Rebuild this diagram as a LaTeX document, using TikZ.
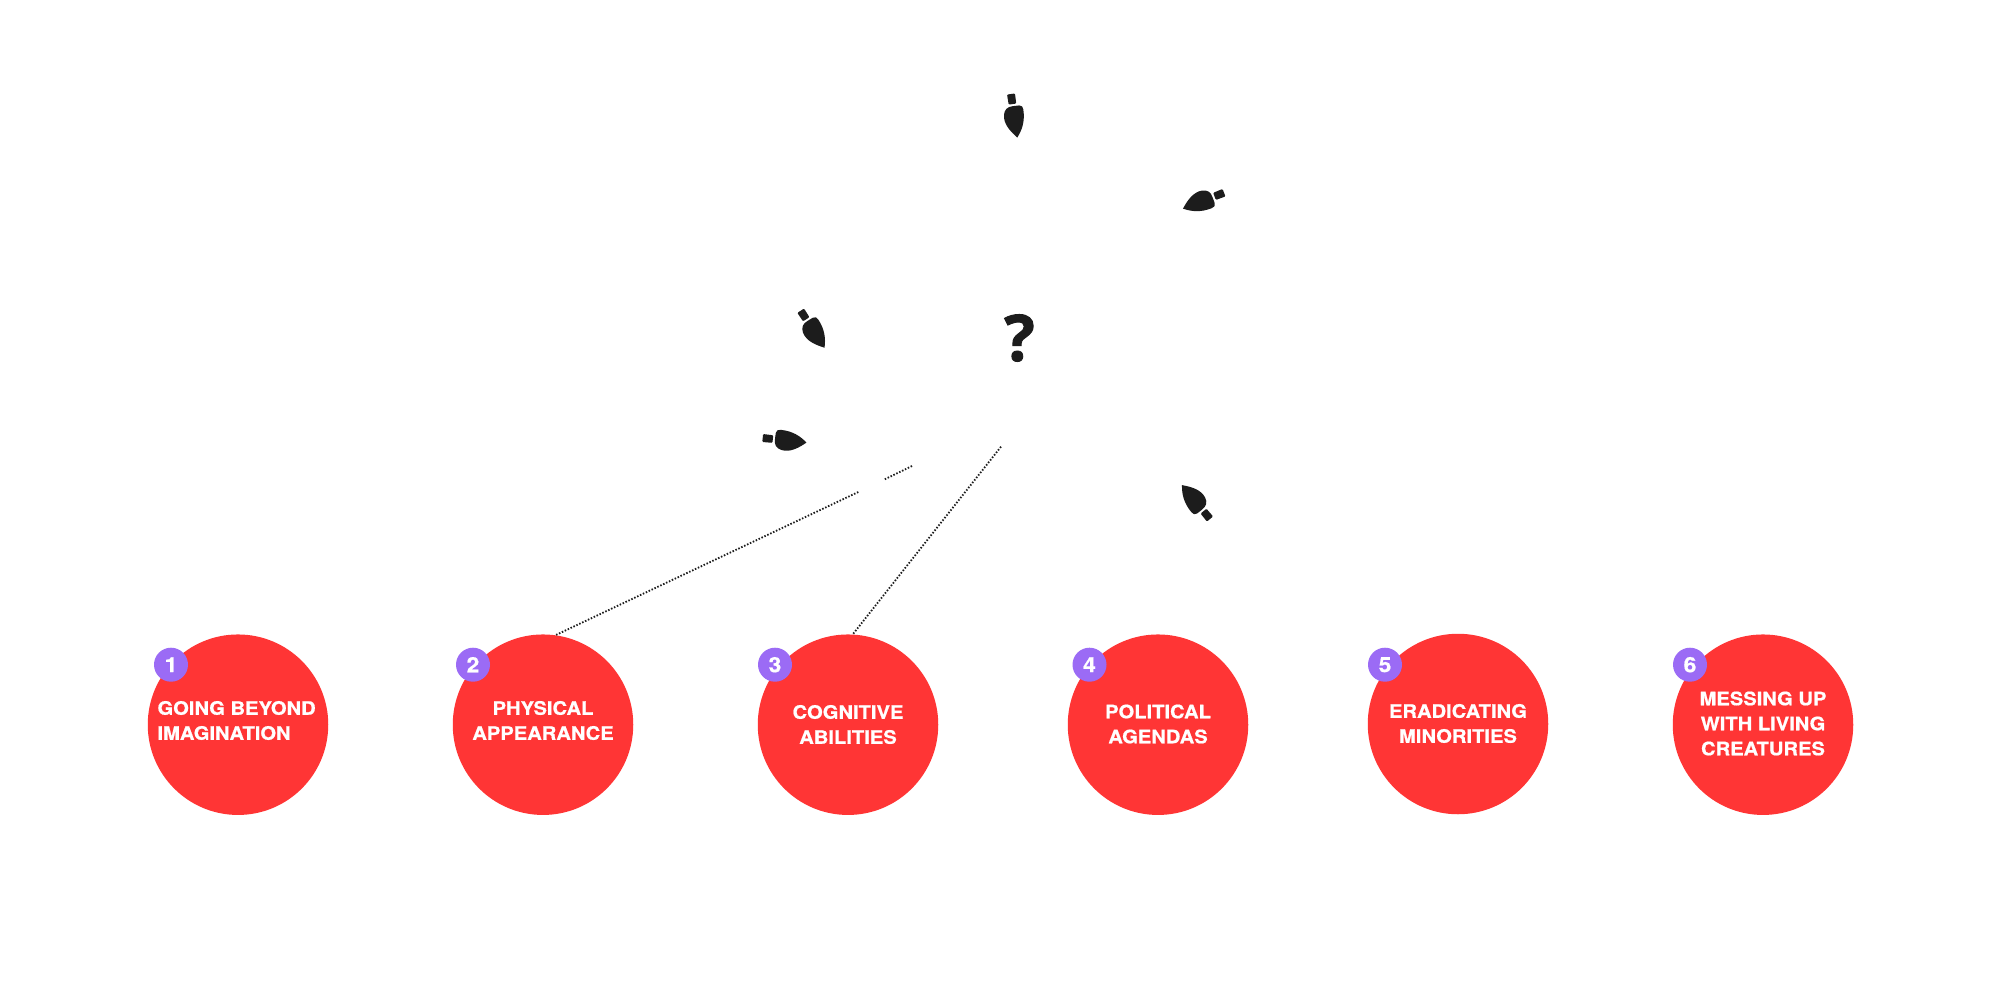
\documentclass[tikz,border=0pt]{standalone}
\usepackage{fontspec}
\setmainfont{TeX Gyre Heros}
\newfontfamily\labelfont[FakeStretch=1.09,FakeBold=0.7]{TeX Gyre Heros Bold}
\newfontfamily\qfont[FakeBold=1.4]{Open Sans Bold}
\definecolor{redc}{HTML}{FF3535}
\definecolor{purp}{HTML}{9B6BF5}
\definecolor{inkc}{HTML}{1C1C1C}
\tikzset{
  disc/.style={circle,fill=redc,minimum size=180.5pt,inner sep=0pt},
  badge/.style={circle,fill=purp,minimum size=34pt,inner sep=0pt,text=white,font=\labelfont\fontsize{21}{21}\selectfont},
  lab/.style={text=white,inner sep=0pt,align=center,font=\labelfont\fontsize{18.5}{25}\selectfont},
  dots/.style={draw=inkc,line width=1.8pt,dash pattern=on 1.5pt off 1.7pt},
  bulb/.pic={
    \fill[inkc,rounded corners=1pt] (0,-4) -- (10.2,-3.8) -- (10.2,3.8) -- (0,4) -- cycle;
    \fill[inkc] (44,0) .. controls (37,-6) and (29,-10) .. (17,-10)
      .. controls (14.5,-10) and (12.5,-9) .. (12.5,-6.5)
      .. controls (12.5,-3) and (12,-1) .. (12.6,3.5)
      .. controls (13.5,8) and (18,10.3) .. (23,10.3)
      .. controls (31,10.3) and (38,5) .. (44,0) -- cycle;
  }
}
\begin{document}
\begin{tikzpicture}[x=1pt,y=-1pt]
\useasboundingbox (0,0) rectangle (2000,988);
\fill[white] (0,0) rectangle (2000,988);
% discs
\node[disc] (c1) at (238,724.7) {};
\node[disc] (c2) at (543,724.7) {};
\node[disc] (c3) at (848,724.7) {};
\node[disc] (c4) at (1158,724.7) {};
\node[disc] (c5) at (1458,724) {};
\node[disc] (c6) at (1763,724.7) {};
% badges
\node[badge] (b1) at (171,664.7) {1};
\node[badge] (b2) at (473,664.7) {2};
\node[badge] (b3) at (775,664.7) {3};
\node[badge] (b4) at (1089.5,664.7) {4};
\node[badge] (b5) at (1385,664.7) {5};
\node[badge] (b6) at (1690,664.7) {6};
% labels
\node[lab,align=left] (t1) at (236.6,720.5) {GOING BEYOND\\IMAGINATION};
\node[lab] (t2) at (543,720.5) {PHYSICAL\\APPEARANCE};
\node[lab] (t3) at (848,724.5) {COGNITIVE\\ABILITIES};
\node[lab] (t4) at (1158,724) {POLITICAL\\AGENDAS};
\node[lab] (t5) at (1458,723.5) {ERADICATING\\MINORITIES};
\node[lab] (t6) at (1763,723.5) {MESSING UP\\WITH LIVING\\CREATURES};
% question mark
\node[text=inkc,inner sep=0pt,font=\qfont\fontsize{64}{64}\selectfont] (q) at (1019.5,338) {?};
% bulbs
\pic[shift={(1011,94)},rotate=-81.8] {bulb};
\pic[shift={(1224,192.7)},rotate=201.2] {bulb};
\pic[shift={(800.7,310.7)},rotate=-57.2] {bulb};
\pic[shift={(762.7,438)},rotate=-6] {bulb};
\pic[shift={(1210,519)},rotate=129.6] {bulb};
% dotted connectors
\coordinate (d1) at (912,466);
\coordinate (d2) at (883.3,480);
\coordinate (d3) at (858.3,492);
\coordinate (d4) at (1001,446.7);
\draw[dots] (d1) -- (d2);
\draw[dots] (d3) -- (c2.82);
\draw[dots] (d4) -- (c3.87);
\end{tikzpicture}
\end{document}
